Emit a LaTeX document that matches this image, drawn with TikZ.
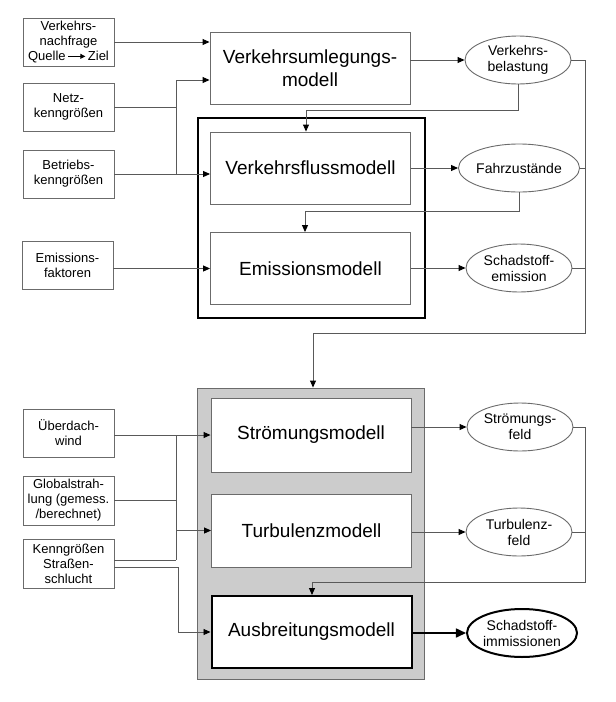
\documentclass[tikz,border=0pt]{standalone}
\usepackage{fontspec}
\setmainfont{Liberation Sans}
\usetikzlibrary{arrows.meta,shapes.geometric}
\definecolor{boxgray}{gray}{0.42}
\definecolor{linegray}{gray}{0.35}
\definecolor{greyfill}{gray}{0.80}
\begin{document}
\begin{tikzpicture}[x=1pt,y=-1pt,
 inbox/.style={draw=boxgray,line width=0.9pt,fill=white,minimum width=91pt,minimum height=48pt,inner sep=0pt,align=center,font=\fontsize{13}{15}\selectfont},
 model/.style={draw=boxgray,line width=0.9pt,fill=white,minimum width=200pt,minimum height=72pt,inner sep=0pt,align=center,font=\fontsize{19}{23}\selectfont},
 outp/.style={ellipse,draw=boxgray,line width=0.9pt,fill=white,minimum width=106pt,minimum height=48pt,inner sep=0pt,align=center,font=\fontsize{14}{16}\selectfont},
 conn/.style={draw=linegray,line width=0.9pt},
 arr/.style={conn,-{Triangle[length=7pt,width=6pt,color=black]}}]
\useasboundingbox (0,0) rectangle (616,702);
% frames
\node[draw=black,line width=2pt,minimum width=227pt,minimum height=200pt,inner sep=0pt] (fr) at (311.5,218) {};
\node[draw=boxgray,line width=0.9pt,fill=greyfill,minimum width=227pt,minimum height=291pt,inner sep=0pt] (gb) at (310.5,533.5) {};
% input boxes
\node[inbox] (vn) at (68.5,42) {Verkehrs-\\nachfrage\\Quelle\,\tikz[baseline=-0.6ex]\draw[line width=0.9pt,-{Triangle[length=5pt,width=5pt]}] (0pt,0pt)--(17pt,0pt);\,Ziel};
\node[inbox] (nk) at (68.5,107) {Netz-\\kenngrößen};
\node[inbox] (bk) at (68.5,174) {Betriebs-\\kenngrößen};
\node[inbox] (ef) at (67.5,265) {Emissions-\\faktoren};
\node[inbox] (ud) at (68.5,433) {Überdach-\\wind};
\node[inbox,minimum height=49pt] (gs) at (68.5,500.5) {Globalstrah-\\lung (gemess.\\/berechnet)};
\node[inbox,minimum height=49pt] (ks) at (68.5,563.5) {Kenngrößen\\Straßen-\\schlucht};
% models
\node[model] (um) at (310,68) {Verkehrsumlegungs-\\modell};
\node[model] (vf) at (310.5,168) {Verkehrsflussmodell};
\node[model] (em) at (310.5,268.5) {Emissionsmodell};
\node[model,minimum height=74pt] (sm) at (311,435) {Strömungsmodell};
\node[model,minimum height=73pt] (tm) at (311.5,530.5) {Turbulenzmodell};
\node[model,draw=black,line width=2pt] (am) at (311.5,632) {Ausbreitungsmodell};
% outputs
\node[outp] (vb) at (518,60) {Verkehrs-\\belastung};
\node[outp] (fz) at (519,168) {Fahrzustände};
\node[outp] (se) at (519,268) {Schadstoff-\\emission};
\node[outp] (sf) at (520,427) {Strömungs-\\feld};
\node[outp] (tf) at (519,532) {Turbulenz-\\feld};
\node[outp,draw=black,line width=2pt] (si) at (522,633) {Schadstoff-\\immissionen};
% junction coordinates
\coordinate (j1) at (176,80);
\coordinate (j2) at (176,174);
\coordinate (k1) at (306,110);
\coordinate (k2) at (305,211);
\coordinate (r1) at (585,333);
\coordinate (k3) at (313,333);
\coordinate (r2) at (585,582);
\coordinate (k4) at (312,582);
\coordinate (j3) at (176,435);
\coordinate (j4) at (176,560);
\coordinate (j5) at (178,567);
% upper inputs
\draw[arr] (vn.east) -- (vn.east -| um.west);
\draw[conn] (nk.east) -- (nk.east -| j1);
\draw[conn] (j1) -- (j2);
\draw[arr] (j1) -- (j1 -| um.west);
\draw[arr] (bk.east) -- (bk.east -| vf.west);
\draw[arr] (em.west -| ef.east) -- (em.west);
% upper outputs
\draw[arr] (vb.west -| um.east) -- (vb.west);
\draw[arr] (vf.east) -- (fz.west);
\draw[arr] (se.west -| em.east) -- (se.west);
\draw[arr] (vb.south) |- (k1) -- (k1 |- vf.north);
\draw[arr] (fz.south) |- (k2) -- (k2 |- em.north);
\draw[conn] (vb.east) -| (r1) -- (k3);
\draw[arr] (k3) -- (k3 |- gb.north);
\draw[conn] (fz.east) -- (fz.east -| r1);
\draw[conn] (se.east) -- (se.east -| r1);
% lower outputs
\draw[arr] (sf.west -| sm.east) -- (sf.west);
\draw[arr] (tf.west -| tm.east) -- (tf.west);
\draw[line width=1.6pt,-{Triangle[length=10pt,width=9pt]}] (si.west -| am.east) -- (si.west);
\draw[conn] (sf.east) -| (r2) -- (k4);
\draw[arr] (k4) -- (k4 |- am.north);
\draw[conn] (tf.east) -- (tf.east -| r2);
% lower inputs
\draw[arr] (sm.west -| ud.east) -- (sm.west);
\draw[conn] (j3) -- (j4);
\draw[conn] (gs.east) -- (gs.east -| j3);
\draw[conn] (j4 -| ks.east) -- (j4);
\draw[arr] (tm.west -| j3) -- (tm.west);
\draw[arr] (j5 -| ks.east) -- (j5) |- (am.west);
\end{tikzpicture}
\end{document}
